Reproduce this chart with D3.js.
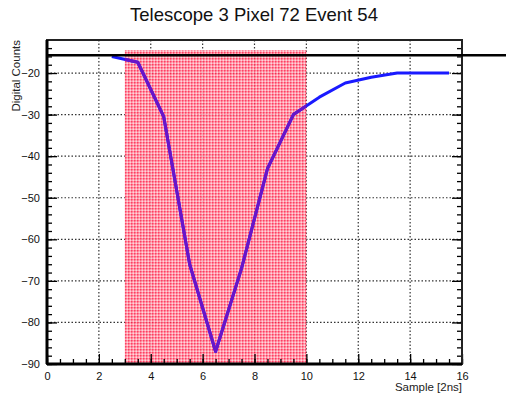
<!DOCTYPE html>
<html>
<head>
<meta charset="utf-8">
<script src="https://cdn.jsdelivr.net/npm/d3@7"></script>
<style>
body{margin:0;background:#fff;}
text{font-family:"Liberation Sans",Arial,sans-serif;}
</style>
</head>
<body>
<script>
// sample bin centres and the pulse (digital counts)
var samples = [2.5, 3.5, 4.5, 5.5, 6.5, 7.5, 8.5, 9.5, 10.5, 11.5, 12.5, 13.5, 14.5, 15.5]
var counts = [-16, -17.4, -30.5, -66, -87, -67, -43, -30, -25.8, -22.4, -21, -20, -20, -20]
var xTicks = [0, 2, 4, 6, 8, 10, 12, 14, 16]
var yTicks = [-90, -80, -70, -60, -50, -40, -30, -20]
var windowRange = [3, 10], windowTop = -14.5
var threshold = -15.7

var width = 506, height = 398, margin = {left:47, top:40, right:44, bottom:34}
var g_width = width - margin.left - margin.right, g_height = height - margin.top - margin.bottom
var svg = d3.select('body').append('svg').attr('width', width).attr('height', height)

var defs = svg.append('defs')
var pat = defs.append('pattern').attr('id','hatch').attr('width',3).attr('height',3).attr('patternUnits','userSpaceOnUse')
pat.append('rect').attr('width',3).attr('height',3).attr('fill','#ff8c9e')
pat.append('rect').attr('width',1.5).attr('height',1.5).attr('fill','#ff2a50')
pat.append('rect').attr('x',1.5).attr('y',1.5).attr('width',1.5).attr('height',1.5).attr('fill','#ffd0d8')

var g = svg.append('g').attr('transform','translate('+margin.left+','+margin.top+')')
var scale_x = d3.scaleLinear().domain([0,16]).range([0,g_width])
var scale_y = d3.scaleLinear().domain([-90,-12.05]).range([g_height,0])
var fmt = function(d){ return d < 0 ? '\u2212' + Math.abs(d) : d }

defs.append('clipPath').attr('id','winclip').append('rect')
	.attr('x',scale_x(windowRange[0])).attr('y',0)
	.attr('width',scale_x(windowRange[1])-scale_x(windowRange[0])).attr('height',g_height)

// grid
g.append('g').selectAll('line').data(xTicks.slice(1,-1)).enter().append('line')
	.attr('x1',d=>scale_x(d)).attr('x2',d=>scale_x(d)).attr('y1',0).attr('y2',g_height)
	.attr('stroke','#333').attr('stroke-width',1.2).attr('stroke-dasharray','1.5,2')
g.append('g').selectAll('line').data(yTicks.slice(1)).enter().append('line')
	.attr('y1',d=>scale_y(d)).attr('y2',d=>scale_y(d)).attr('x1',0).attr('x2',g_width)
	.attr('stroke','#333').attr('stroke-width',1.2).attr('stroke-dasharray','1.5,2')

// integration window
g.append('rect').attr('x',scale_x(windowRange[0])).attr('y',scale_y(windowTop))
	.attr('width',scale_x(windowRange[1])-scale_x(windowRange[0])).attr('height',g_height-scale_y(windowTop))
	.attr('fill','url(#hatch)').attr('opacity',0.9)

// pulse
var line_generator = d3.line().x((d,i)=>scale_x(samples[i])).y(d=>scale_y(d))
g.append('path').attr('d',line_generator(counts)).attr('fill','none')
	.attr('stroke','#1a1aff').attr('stroke-width',3).attr('stroke-linejoin','round')
g.append('path').attr('d',line_generator(counts)).attr('fill','none')
	.attr('stroke','#6a14c8').attr('stroke-width',3).attr('stroke-linejoin','round')
	.attr('clip-path','url(#winclip)')

// axes
var x_axis = d3.axisBottom(scale_x).tickValues(xTicks).tickSize(-10).tickPadding(14).tickFormat(fmt)
var y_axis = d3.axisLeft(scale_y).tickValues(yTicks).tickSize(-10).tickPadding(12).tickFormat(fmt)
var minorX = d3.range(0,16.01,0.5), minorY = d3.range(-90,-12,2)
g.append('g').attr('transform','translate(0,'+g_height+')').call(d3.axisBottom(scale_x).tickValues(minorX).tickSize(-5).tickFormat(''))
g.append('g').call(d3.axisLeft(scale_y).tickValues(minorY).tickSize(-5).tickFormat(''))
g.append('g').attr('transform','translate('+g_width+',0)').call(d3.axisRight(scale_y).tickValues(minorY).tickSize(-5).tickFormat(''))
g.append('g').attr('transform','translate('+g_width+',0)').call(d3.axisRight(scale_y).tickValues(yTicks).tickSize(-10).tickFormat(''))
var gx = g.append('g').attr('transform','translate(0,'+g_height+')').call(x_axis)
var gy = g.append('g').call(y_axis)
g.selectAll('.domain').remove()
g.selectAll('.tick line').attr('stroke','#000').attr('stroke-width',1.3)
gx.selectAll('text').attr('font-size',11).attr('fill','#111').attr('dy','0.2em')
gy.selectAll('text').attr('font-size',11).attr('fill','#111').attr('dx','0.45em')

// frame
g.append('rect').attr('width',g_width).attr('height',g_height).attr('fill','none')
	.attr('stroke','#222').attr('stroke-width',2)
g.append('line').attr('x1',0).attr('x2',g_width).attr('y1',g_height).attr('y2',g_height).attr('stroke','#000').attr('stroke-width',3)
g.append('line').attr('x1',0).attr('x2',0).attr('y1',0).attr('y2',g_height).attr('stroke','#000').attr('stroke-width',3)

// threshold line
g.append('line').attr('x1',0).attr('x2',width-margin.left).attr('y1',scale_y(threshold)).attr('y2',scale_y(threshold))
	.attr('stroke','#000').attr('stroke-width',2.5)

// labels
svg.append('text').attr('x',254).attr('y',21).attr('text-anchor','middle').attr('font-size',18.5).attr('fill','#111')
	.text('Telescope 3 Pixel 72 Event 54')
svg.append('text').attr('x',margin.left+g_width).attr('y',391).attr('text-anchor','end').attr('font-size',11.5).attr('fill','#222')
	.text('Sample [2ns]')
svg.append('text').attr('transform','translate(20,'+margin.top+') rotate(-90)').attr('text-anchor','end').attr('font-size',11.5).attr('fill','#222')
	.text('Digital Counts')
</script>
</body>
</html>
